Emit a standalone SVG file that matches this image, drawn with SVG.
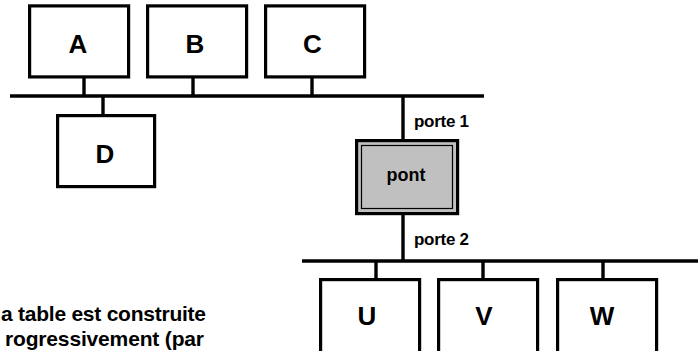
<svg xmlns="http://www.w3.org/2000/svg" width="698" height="351" viewBox="0 0 698 351">
<style>
.box{fill:#ffffff;stroke:#000000;stroke-width:3.2}
.line{stroke:#000000;stroke-width:3.4;fill:none}
.lbl{font-family:"Liberation Sans",Arial,sans-serif;font-weight:bold;fill:#000000}
.big{font-size:26px;text-anchor:middle}
.port{font-size:17px}
.note{font-size:21px}
</style>
<rect width="698" height="351" fill="#ffffff"/>
<g id="connectors">
<line class="line" x1="10" y1="96" x2="484" y2="96"/>
<line class="line" x1="302" y1="261" x2="698" y2="261"/>
<line class="line" x1="84" y1="78" x2="84" y2="96"/>
<line class="line" x1="193" y1="78" x2="193" y2="96"/>
<line class="line" x1="312" y1="78" x2="312" y2="96"/>
<line class="line" x1="103" y1="96" x2="103" y2="114"/>
<line class="line" x1="403" y1="96" x2="403" y2="139"/>
<line class="line" x1="403" y1="215" x2="403" y2="261"/>
<line class="line" x1="376" y1="261" x2="376" y2="278"/>
<line class="line" x1="483" y1="261" x2="483" y2="278"/>
<line class="line" x1="603" y1="261" x2="603" y2="278"/>
</g>
<g id="node-A"><rect class="box" x="29.6" y="5.9" width="99" height="71"/><text class="lbl big" x="78" y="53">A</text></g>
<g id="node-B"><rect class="box" x="147.6" y="5.9" width="99" height="71"/><text class="lbl big" x="195" y="53">B</text></g>
<g id="node-C"><rect class="box" x="265.6" y="5.9" width="99" height="71"/><text class="lbl big" x="312.5" y="53">C</text></g>
<g id="node-D"><rect class="box" x="57.6" y="115.6" width="97" height="71"/><text class="lbl big" x="105" y="163">D</text></g>
<g id="node-pont">
<rect x="356.6" y="140.6" width="101" height="73" fill="#c0c0c0" stroke="#000000" stroke-width="3.2"/>
<rect x="361.5" y="145.5" width="91" height="63" fill="#c0c0c0" stroke="#000000" stroke-width="1.2"/>
<text class="lbl" x="406" y="181" font-size="18px" text-anchor="middle">pont</text>
</g>
<g id="label-porte1"><text class="lbl port" x="414" y="127" textLength="55" lengthAdjust="spacing">porte 1</text></g>
<g id="label-porte2"><text class="lbl port" x="414" y="245" textLength="55" lengthAdjust="spacing">porte 2</text></g>
<g id="node-U"><rect class="box" x="320.6" y="279.6" width="99" height="90"/><text class="lbl big" x="367" y="325">U</text></g>
<g id="node-V"><rect class="box" x="438.6" y="279.6" width="99" height="90"/><text class="lbl big" x="484" y="325">V</text></g>
<g id="node-W"><rect class="box" x="557.6" y="279.6" width="99" height="90"/><text class="lbl big" x="602" y="325">W</text></g>
<g id="note">
<text class="lbl note" x="1" y="321" textLength="205" lengthAdjust="spacing">a table est construite</text>
<text class="lbl note" x="5" y="346" textLength="199" lengthAdjust="spacing">rogressivement (par</text>
</g>
</svg>
